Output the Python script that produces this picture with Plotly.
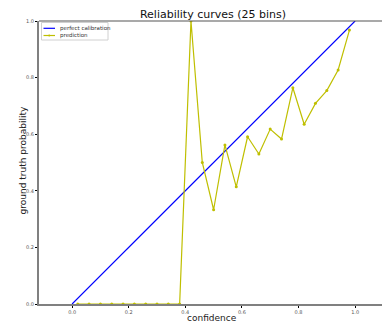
import plotly.graph_objects as go

perfect_x = [0.0, 1.0]
perfect_y = [0.0, 1.0]
bin_centers = [0.02, 0.06, 0.10, 0.14, 0.18, 0.22, 0.26, 0.30, 0.34, 0.38,
               0.42, 0.46, 0.50, 0.54, 0.58, 0.62, 0.66, 0.70, 0.74, 0.78,
               0.82, 0.86, 0.90, 0.94, 0.98]
pred_y = [0, 0, 0, 0, 0, 0, 0, 0, 0, 0,
          1.0, 0.50, 0.333, 0.562, 0.414, 0.591, 0.53, 0.618, 0.583, 0.764,
          0.635, 0.709, 0.754, 0.827, 0.968]
x_ticks = [0.0, 0.2, 0.4, 0.6, 0.8, 1.0]
y_ticks = [0.0, 0.2, 0.4, 0.6, 0.8, 1.0]
legend_labels = ["perfect calibration", "prediction"]
legend_colors = ["#0000ff", "#bfbf00"]

W, H = 382, 322
L, R, T, B = 39, 0, 21, 18
pw, ph = W - L - R, H - T - B

def px(xp):
    return (xp - L) / pw

def py(yp):
    return 1 - (yp - T) / ph

fig = go.Figure()
fig.add_trace(go.Scatter(x=perfect_x, y=perfect_y, mode="lines",
                         name=legend_labels[0], showlegend=False,
                         line=dict(color=legend_colors[0], width=1.2)))
fig.add_trace(go.Scatter(x=bin_centers, y=pred_y, mode="lines+markers",
                         name=legend_labels[1], showlegend=False,
                         line=dict(color=legend_colors[1], width=1.2),
                         marker=dict(color=legend_colors[1], size=3)))

# top spine
fig.add_shape(type="line", xref="paper", yref="paper", x0=0, x1=1, y0=1, y1=1,
              line=dict(color="#555555", width=1.2))

# manual legend
fig.add_shape(type="rect", xref="paper", yref="paper",
              x0=px(41.5), x1=px(108), y0=py(22.5), y1=py(40),
              line=dict(color="#d0d0d0", width=1), fillcolor="white", layer="above")
rows = [28.3, 35.5]
for i, (lab, col) in enumerate(zip(legend_labels, legend_colors)):
    yy = py(rows[i])
    fig.add_shape(type="line", xref="paper", yref="paper",
                  x0=px(43.5), x1=px(55), y0=yy, y1=yy,
                  line=dict(color=col, width=1.2), layer="above")
    fig.add_annotation(text=lab, xref="paper", yref="paper", x=px(58), y=yy,
                       xanchor="left", yanchor="middle", showarrow=False,
                       font=dict(size=5.5, color="#333333"))
fig.add_shape(type="circle", xref="paper", yref="paper",
              x0=px(48.2), x1=px(50.2), y0=py(34.5), y1=py(36.5),
              line=dict(color=legend_colors[1], width=0),
              fillcolor=legend_colors[1], layer="above")

# axis titles
fig.add_annotation(text="confidence", xref="paper", yref="paper",
                   x=px(212), y=py(318), xanchor="center", yanchor="middle",
                   showarrow=False, font=dict(size=9, color="#222222"))
fig.add_annotation(text="ground truth probability", xref="paper", yref="paper",
                   x=px(22.5), y=py(161), xanchor="center", yanchor="middle",
                   textangle=-90, showarrow=False,
                   font=dict(size=9, color="#222222"))

fig.update_layout(
    width=W, height=H,
    margin=dict(l=L, r=R, t=T, b=B),
    paper_bgcolor="white", plot_bgcolor="white",
    font=dict(family="DejaVu Sans", color="#333333"),
    title=dict(text="Reliability curves (25 bins)", x=213 / W, xanchor="center",
               xref="container", yref="container",
               y=1 - 14 / H, yanchor="middle", automargin=False,
               font=dict(size=11, color="#111111")),
    showlegend=False,
    xaxis=dict(range=[-0.117, 1.095], tickvals=x_ticks,
               ticktext=[f"{v:.1f}" for v in x_ticks],
               showgrid=False, zeroline=False, automargin=False,
               showline=True, linecolor="#808080", linewidth=2,
               ticks="outside", ticklen=2, tickcolor="#000000",
               tickfont=dict(size=5, color="#555555")),
    yaxis=dict(range=[0, 1.0], tickvals=y_ticks,
               ticktext=[f"{v:.1f}" for v in y_ticks],
               showgrid=False, zeroline=False, automargin=False,
               showline=True, linecolor="#808080", linewidth=2,
               ticks="outside", ticklen=2, tickcolor="#000000",
               tickfont=dict(size=5, color="#555555")),
)

fig.write_html("out.html", config={"displayModeBar": False},
               post_script="document.body.style.margin='0px';document.body.style.padding='0px';")
